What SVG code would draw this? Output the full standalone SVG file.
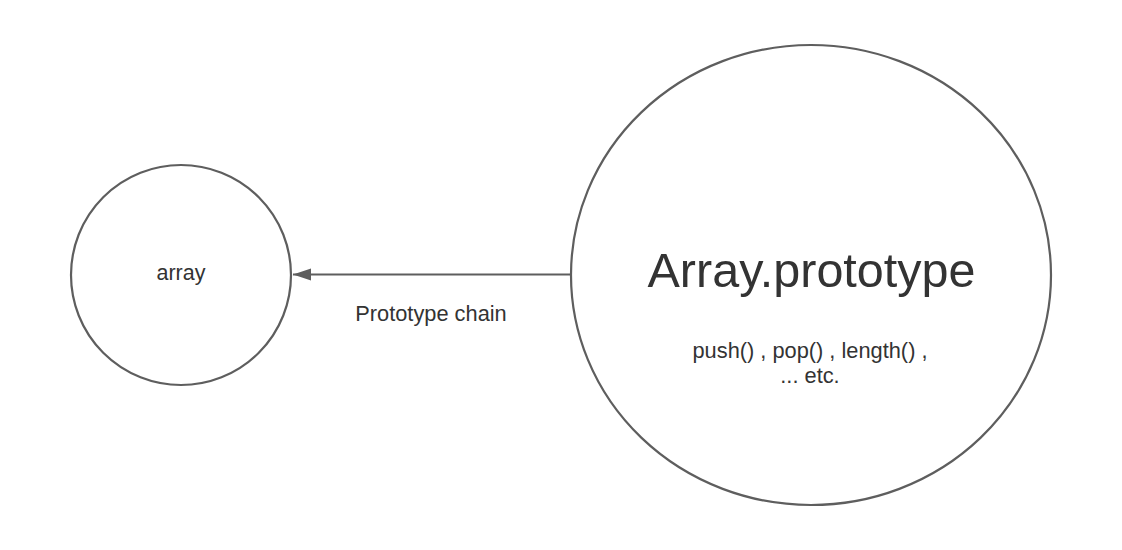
<svg xmlns="http://www.w3.org/2000/svg" width="1122" height="550" viewBox="0 0 1122 550">
<style>
.node{fill:#ffffff;stroke:#5e5e5e;stroke-width:2.2}
.lbl{font-family:"Liberation Sans",Arial,sans-serif;fill:#333333;text-anchor:middle}
.edge{stroke:#5e5e5e;stroke-width:2;fill:none}
</style>
<defs>
<marker id="arrow" markerUnits="userSpaceOnUse" markerWidth="20" markerHeight="14" refX="18" refY="7" orient="auto">
<path d="M0,1 L18,7 L0,13 Z" fill="#5e5e5e"/>
</marker>
</defs>
<rect width="1122" height="550" fill="#ffffff"/>
<g id="connectors">
<line class="edge" x1="571" y1="274.5" x2="293" y2="274.5" marker-end="url(#arrow)"/>
<text class="lbl" x="431" y="320.5" font-size="21.8">Prototype chain</text>
</g>
<g id="node-array">
<circle class="node" cx="181" cy="275" r="110"/>
<text class="lbl" x="181" y="280" font-size="21.5">array</text>
</g>
<g id="node-array-prototype">
<ellipse class="node" cx="811" cy="275" rx="240" ry="230"/>
<text class="lbl" x="811.5" y="286.5" font-size="48.5">Array.prototype</text>
<text class="lbl" x="810" y="358" font-size="21.8">push() , pop() , length() ,</text>
<text class="lbl" x="810" y="383" font-size="21.8">... etc.</text>
</g>
</svg>
